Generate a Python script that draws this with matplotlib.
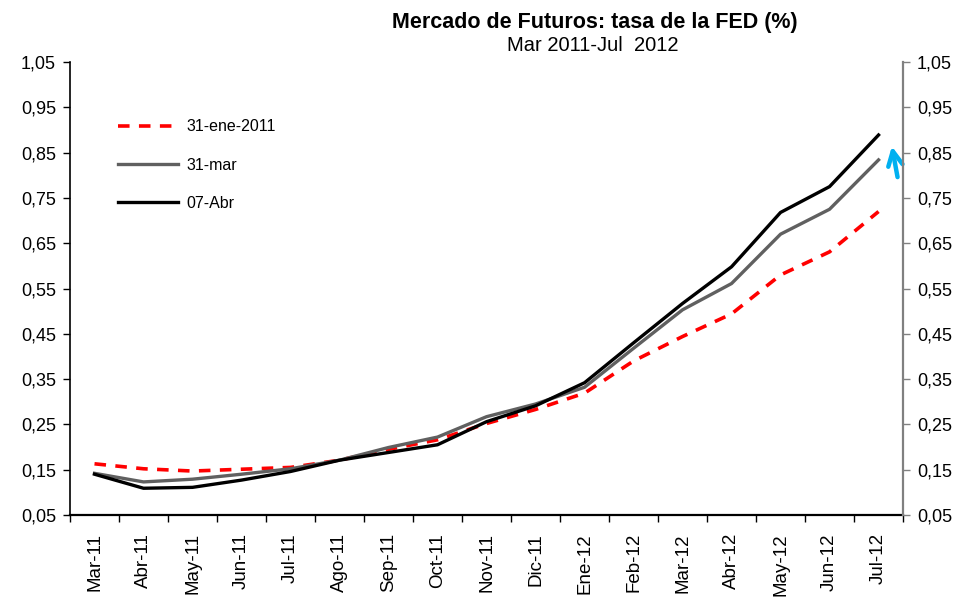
import numpy as np
import matplotlib
matplotlib.use("Agg")
import matplotlib.pyplot as plt
from matplotlib.ticker import FuncFormatter, FixedLocator

plt.rcParams['font.family'] = ['Liberation Sans', 'DejaVu Sans']

meses = ['Mar-11', 'Abr-11', 'May-11', 'Jun-11', 'Jul-11', 'Ago-11', 'Sep-11',
         'Oct-11', 'Nov-11', 'Dic-11', 'Ene-12', 'Feb-12', 'Mar-12', 'Abr-12',
         'May-12', 'Jun-12', 'Jul-12']

ene31 = [0.163, 0.152, 0.147, 0.151, 0.155, 0.171, 0.195, 0.216, 0.252, 0.283,
         0.319, 0.390, 0.444, 0.494, 0.580, 0.631, 0.720]
mar31 = [0.142, 0.123, 0.129, 0.140, 0.152, 0.171, 0.199, 0.222, 0.267, 0.295,
         0.332, 0.418, 0.503, 0.561, 0.670, 0.725, 0.834]
abr07 = [0.140, 0.109, 0.111, 0.127, 0.146, 0.171, 0.188, 0.205, 0.256, 0.291,
         0.342, 0.430, 0.517, 0.598, 0.718, 0.775, 0.889]

yticks = np.arange(0.05, 1.06, 0.1)

fig = plt.figure(figsize=(9.75, 5.97), dpi=100)
ax = fig.add_axes([0.0718, 0.1374, 0.8544, 0.7586])

x = np.arange(len(meses))
ax.plot(x, ene31, color='#ff0000', lw=2.6, ls=(0, (3.2, 2.6)), label='31-ene-2011')
ax.plot(x, mar31, color='#606060', lw=2.4, label='31-mar')
ax.plot(x, abr07, color='#000000', lw=2.4, label='07-Abr')

ax.set_xlim(-0.5, len(meses) - 0.5)
ax.set_ylim(0.05, 1.05)

fmt = FuncFormatter(lambda v, p: f'{v:.2f}'.replace('.', ','))
ax.set_yticks(yticks)
ax.yaxis.set_major_formatter(fmt)
ax.tick_params(axis='y', direction='out', length=5, width=1, labelsize=13, pad=5)

ax.set_xticks(x)
ax.set_xticklabels(meses, rotation=90, fontsize=13.5)
ax.tick_params(axis='x', which='major', length=0, pad=13)
ax.xaxis.set_minor_locator(FixedLocator(np.arange(-0.5, len(meses), 1)))
ax.tick_params(axis='x', which='minor', direction='out', length=5, width=1)

for s in ['top', 'right']:
    ax.spines[s].set_visible(False)
ax.spines['left'].set_linewidth(1.2)
ax.spines['bottom'].set_linewidth(1.6)

ax2 = ax.twinx()
ax2.set_ylim(0.05, 1.05)
ax2.set_yticks(yticks)
ax2.yaxis.set_major_formatter(fmt)
ax2.tick_params(axis='y', direction='out', length=5, width=1, labelsize=13, pad=5,
                color='#808080')
for s in ['top', 'left', 'bottom']:
    ax2.spines[s].set_visible(False)
ax2.spines['right'].set_color('#808080')
ax2.spines['right'].set_linewidth(1.6)

ax.legend(loc='upper left', bbox_to_anchor=(0.04, 0.905), frameon=False,
          fontsize=11.5, handlelength=3.8, labelspacing=1.45, handletextpad=0.5)

ax.annotate('', xy=(0.986, 0.82), xytext=(0.994, 0.74), xycoords='axes fraction',
            arrowprops=dict(arrowstyle='->', color='#00b0f0', lw=3.2,
                            mutation_scale=26))

fig.text(0.61, 0.953, 'Mercado de Futuros: tasa de la FED (%)', ha='center',
         va='baseline', fontsize=15.5, fontweight='bold')
fig.text(0.608, 0.914, 'Mar 2011-Jul  2012', ha='center', va='baseline',
         fontsize=14.5)

fig.savefig('out.png', dpi=100)
